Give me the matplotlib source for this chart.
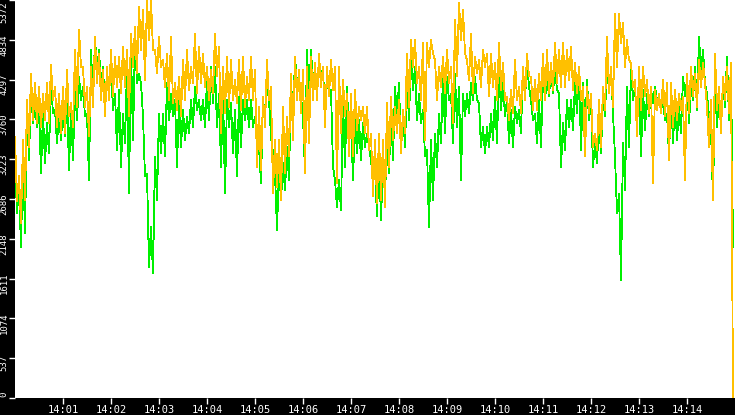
import numpy as np
import pandas as pd
import matplotlib
matplotlib.use("Agg")
import matplotlib.pyplot as plt
import matplotlib.dates as mdates
from matplotlib.transforms import ScaledTranslation

# two series, sampled every 2.5 s from 14:00:00
orange = [
    3530, 2660, 3000, 2360, 3480, 2670, 4020, 3390, 4380, 3750, 4250, 3710, 4200, 3660, 4110, 3750, 4250, 3710, 4500, 4020,
    4200, 3660, 4110, 3570, 4200, 3570, 4430, 3800, 3980, 3660, 4700, 3930, 4970, 4470, 4470, 3930, 4200, 3530, 4470, 3930,
    4880, 4250, 4650, 4020, 4430, 3800, 4470, 4020, 4700, 4070, 4610, 4200, 4610, 4110, 4740, 4200, 4700, 3800, 4920, 4470,
    5010, 4380, 5280, 4700, 5240, 4290, 5370, 4830, 5370, 4700, 4700, 4380, 4880, 4470, 4560, 4200, 4650, 4020, 4880, 3980,
    4250, 3890, 4340, 3800, 4560, 4020, 4700, 4160, 4470, 4250, 4920, 4110, 4740, 4250, 4650, 4200, 4470, 4020, 4430, 4110,
    4920, 4340, 4740, 3570, 4470, 3840, 4610, 3930, 4560, 4020, 4290, 3980, 4560, 3890, 4610, 3930, 4340, 4020, 4610, 4020,
    4430, 3120, 3930, 3080, 4070, 3660, 4560, 4020, 4200, 2760, 3480, 2850, 3480, 2670, 3930, 3030, 3800, 3260, 4380, 3480,
    4610, 4020, 4430, 3840, 4430, 3030, 4470, 3440, 4610, 4020, 4520, 4020, 4650, 4200, 4470, 3660, 4470, 4070, 4560, 4160,
    4470, 2900, 4470, 3570, 4290, 3800, 4110, 3260, 4110, 3260, 4160, 3620, 3930, 3750, 3930, 3570, 3930, 3350, 3570, 2720,
    3480, 2630, 3570, 2670, 3480, 2580, 3980, 3120, 4070, 3480, 3930, 3570, 4020, 3300, 3890, 3570, 4650, 3930, 4830, 4470,
    4830, 4250, 4470, 4020, 4790, 3480, 4790, 4470, 4830, 4650, 4560, 4020, 4470, 4200, 4610, 4110, 4700, 4250, 4470, 3710,
    5100, 4340, 5330, 4830, 5240, 4650, 4560, 4290, 4920, 4110, 4610, 4380, 4560, 4200, 4700, 4470, 4650, 4070, 4650, 4200,
    4520, 4020, 4790, 4160, 4520, 4020, 4070, 3750, 4160, 3840, 4560, 4020, 4200, 3840, 4470, 4020, 4650, 4340, 4340, 3890,
    4290, 3890, 4380, 4020, 4650, 4020, 4700, 4110, 4520, 4160, 4790, 4250, 4700, 4200, 4790, 4200, 4700, 4290, 4740, 4160,
    4520, 4110, 4470, 4020, 4200, 3260, 4200, 3840, 4110, 3390, 3570, 3350, 4020, 3390, 4200, 3890, 4880, 4110, 4470, 3930,
    5190, 4470, 5190, 4790, 5060, 4470, 4830, 4560, 4520, 4200, 4290, 3530, 4470, 3890, 4470, 4070, 4290, 3840, 4200, 2900,
    4160, 3890, 4110, 3840, 4290, 3800, 4250, 3210, 4250, 3660, 4160, 3750, 4110, 3890, 4070, 2940, 4380, 3840, 4470, 4070,
    4380, 3930, 4560, 4200, 4520, 4250, 3930, 3390, 4020, 2670, 4650, 3890, 4200, 3570, 4340, 4020, 4470, 3840, 4520, 0,
]
green = [
    3210, 2490, 2850, 2040, 3300, 2220, 3890, 3210, 4200, 3710, 3980, 3660, 3890, 3030, 3840, 3170, 3710, 3300, 4250, 3840,
    3890, 3440, 3840, 3480, 3930, 3530, 4110, 3080, 3890, 3210, 4200, 3750, 4340, 4020, 4200, 3800, 3840, 2940, 4700, 4020,
    4880, 4380, 4700, 4200, 4470, 3890, 4340, 4110, 4470, 3890, 4110, 3350, 4160, 3120, 3840, 3440, 4470, 2760, 4700, 3480,
    4830, 4250, 4380, 4250, 3800, 2990, 3030, 1770, 2310, 1680, 3260, 2670, 3840, 3300, 3840, 3260, 4250, 3750, 4110, 3800,
    4020, 3120, 4020, 3390, 3890, 3480, 3800, 3570, 4020, 3660, 4200, 3890, 4020, 3750, 4020, 3660, 4290, 3750, 4470, 3980,
    4470, 3660, 4110, 3120, 4160, 2760, 4020, 3660, 3980, 3300, 3890, 2990, 4070, 3390, 4020, 3750, 4020, 3660, 4020, 3660,
    3800, 3440, 3390, 2900, 4020, 3800, 4250, 4020, 3530, 3300, 3030, 2270, 3120, 2670, 3170, 2810, 3390, 2940, 4290, 3750,
    4610, 4250, 4200, 4070, 3800, 3030, 4700, 4020, 4700, 4200, 4470, 4160, 4520, 4290, 4470, 3750, 4340, 4110, 4160, 3120,
    2940, 2580, 2940, 2540, 4020, 3120, 4200, 3480, 3750, 2940, 3750, 3300, 3750, 3210, 3710, 3390, 3570, 3390, 3210, 2900,
    3120, 2450, 3260, 2400, 3210, 2760, 3390, 3030, 3890, 3210, 4200, 3800, 4250, 3300, 3890, 3390, 4290, 3750, 4650, 4160,
    4470, 3750, 4110, 3710, 3890, 3260, 3350, 2310, 3480, 2670, 3570, 3120, 3840, 3440, 4380, 3570, 4340, 4020, 4110, 3440,
    4380, 3660, 4200, 2940, 4110, 3800, 4110, 3840, 4250, 4020, 4340, 4020, 3980, 3390, 3660, 3300, 3660, 3390, 3840, 3480,
    4070, 3440, 4470, 3890, 4250, 3800, 4020, 3440, 3890, 3390, 3930, 3710, 3890, 3570, 4470, 4020, 4560, 4200, 4020, 3750,
    3840, 3440, 4020, 3390, 4380, 4020, 4340, 4070, 4430, 4110, 4470, 4160, 4110, 3120, 3710, 3350, 4020, 3660, 4020, 3620,
    4250, 3840, 4470, 3350, 4250, 3480, 4290, 3750, 4020, 3120, 3440, 3170, 3750, 3300, 4070, 3800, 4560, 4110, 4470, 3840,
    3260, 2490, 2760, 1590, 3440, 2810, 4200, 3390, 4470, 4020, 4200, 3710, 4290, 3260, 4160, 3620, 4110, 3800, 4160, 3980,
    4200, 4020, 4020, 3890, 4020, 3750, 3840, 3260, 4110, 3440, 4020, 3480, 3930, 3570, 4340, 4070, 4290, 3710, 4200, 4020,
    4470, 3890, 4880, 4380, 4700, 4250, 4110, 3800, 3620, 2670, 4290, 3660, 4070, 3660, 4290, 3930, 4610, 3750, 4470, 2040,
]
ymax = 5372
yticks = [int(ymax * i / 10) for i in range(11)]

times = pd.date_range("2024-01-01 14:00:00", periods=len(orange), freq="2500ms")

fig = plt.figure(figsize=(7.35, 4.15), dpi=100, facecolor="black")
ax = fig.add_axes([15 / 735, 17 / 415, 720 / 735, 398 / 415])
ax.set_facecolor("white")

ax.plot(times, green, color="#00f000", lw=0.6, antialiased=False)
ax.plot(times, orange, color="#ffc000", lw=0.6, antialiased=False)

ax.set_xlim(pd.Timestamp("2024-01-01 14:00:00"), pd.Timestamp("2024-01-01 14:15:00"))
ax.set_ylim(0, ymax)
ax.xaxis.set_major_locator(mdates.MinuteLocator())
ax.xaxis.set_major_formatter(mdates.DateFormatter("%H:%M"))
ax.set_yticks(yticks)
ax.set_yticklabels([str(v) for v in yticks], rotation=90, va="center")

for s in ax.spines.values():
    s.set_visible(False)
ax.tick_params(axis="x", colors="white", labelsize=7.5, length=4, width=1, pad=1)
ax.tick_params(axis="y", colors="white", labelsize=6.5, length=4, width=1, pad=0.5)
for lab in ax.get_xticklabels() + ax.get_yticklabels():
    lab.set_family("DejaVu Sans Mono")

# shift y labels a bit down, keep the end ones inside the figure
ylabs = ax.get_yticklabels()
for i, lab in enumerate(ylabs):
    dy = -5
    if i == 0:
        dy = 4
    elif i == len(ylabs) - 1:
        dy = -12
    lab.set_transform(lab.get_transform() + ScaledTranslation(0, dy / 100, fig.dpi_scale_trans))
# 14:00 and 14:15 are not labelled in the original
xt = ax.xaxis.get_major_ticks()
for t in (xt[0], xt[-1]):
    t.label1.set_visible(False)
    t.tick1line.set_visible(False)

plt.savefig("out.png", dpi=100, facecolor="black")
